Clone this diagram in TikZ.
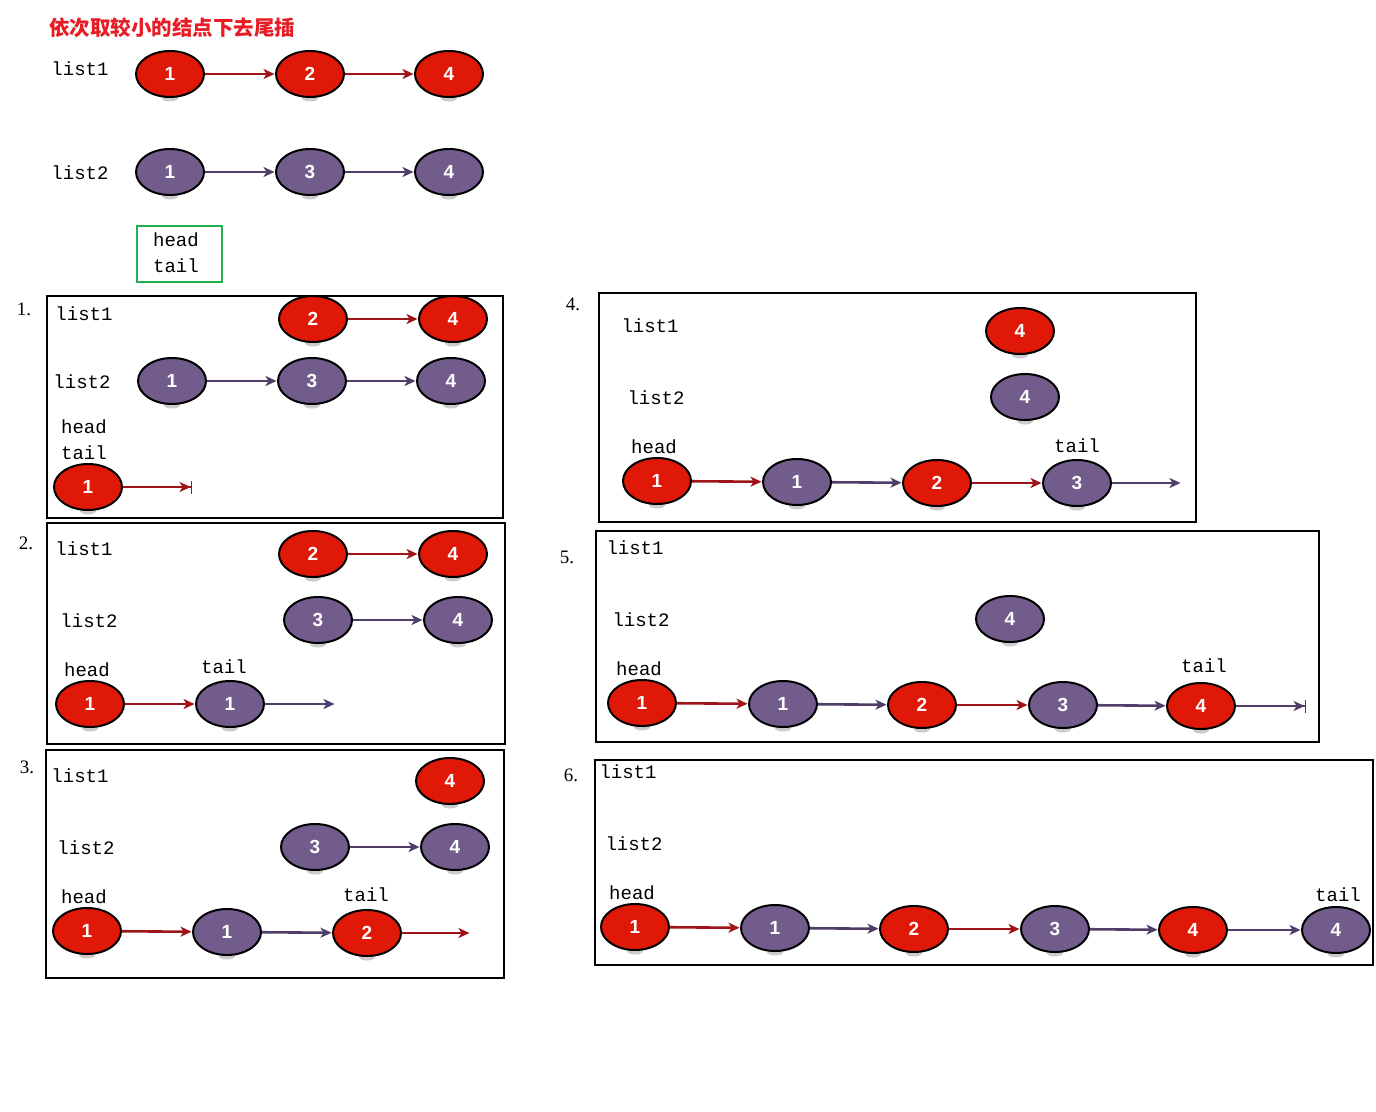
\documentclass[tikz,border=0pt]{standalone}
\usepackage{fontspec}
\setmainfont{Liberation Serif}
\newfontfamily\monof{Liberation Mono}
\newfontfamily\numf{Liberation Sans}
\newfontfamily\cjkf{Noto Sans CJK SC}
\usetikzlibrary{arrows.meta,shapes.geometric}
\definecolor{nodered}{RGB}{224,24,8}
\definecolor{nodepur}{RGB}{114,92,140}
\definecolor{linered}{RGB}{160,20,24}
\definecolor{linepur}{RGB}{78,62,104}
\definecolor{boxgreen}{RGB}{34,176,76}
\definecolor{titlered}{RGB}{232,28,36}
\tikzset{
  lnode/.style={ellipse,draw=black,line width=2pt,minimum width=68pt,minimum height=46pt,inner sep=0pt,
     text=white,font=\numf\bfseries\fontsize{19}{19}\selectfont},
  rednode/.style={lnode,fill=nodered},
  purnode/.style={lnode,fill=nodepur},
  lbl/.style={font=\monof\fontsize{19}{19}\selectfont,inner sep=0pt},
  numlbl/.style={font=\fontsize{19}{19}\selectfont,inner sep=0pt},
  panel/.style={draw=black,line width=1.2pt},
  tipst/.style={-{Stealth[length=11pt,width=10pt,inset=3pt]}},
  redarr/.style={draw=linered,line width=2.6pt,tipst,shorten >=0.5pt},
  purarr/.style={draw=linepur,line width=2.6pt,tipst,shorten >=0.5pt},
  redbar/.style={draw=linered,line width=2.6pt,-{Stealth[length=11pt,width=10pt,inset=3pt,sep=0pt]Bar[width=13pt,line width=1.4pt]}},
  purbar/.style={draw=linepur,line width=2.6pt,-{Stealth[length=11pt,width=10pt,inset=3pt,sep=0pt]Bar[width=13pt,line width=1.4pt]}},
  shadowc/.style={fill=black!20}
}
\newcommand{\RedN}[3]{%
  \path (#2) coordinate (tmp#1);
  \fill[shadowc] ([yshift=-24pt]tmp#1) ellipse [x radius=8pt,y radius=3.5pt];
  \node[rednode] (#1) at (#2) {#3};}
\newcommand{\PurN}[3]{%
  \path (#2) coordinate (tmp#1);
  \fill[shadowc] ([yshift=-24pt]tmp#1) ellipse [x radius=8pt,y radius=3.5pt];
  \node[purnode] (#1) at (#2) {#3};}
\begin{document}
\begin{tikzpicture}[x=1pt,y=-1pt]
\useasboundingbox[fill=white] (0,0) rectangle (1376,1111);

% ---------- title and initial lists ----------
\node[anchor=west,inner sep=0pt,text=titlered,font=\cjkf\bfseries\fontsize{20.5}{20.5}\selectfont] (title) at (49,28) {依次取较小的结点下去尾插};
\node[lbl] (tl1) at (80,69) {list1};
\node[lbl] (tl2) at (80,173) {list2};
\RedN{ta1}{170,74}{1}
\RedN{ta2}{310,74}{2}
\RedN{ta3}{449,74}{4}
\draw[redarr] (ta1) -- (ta2);
\draw[redarr] (ta2) -- (ta3);
\PurN{tb1}{170,172}{1}
\PurN{tb2}{310,172}{3}
\PurN{tb3}{449,172}{4}
\draw[purarr] (tb1) -- (tb2);
\draw[purarr] (tb2) -- (tb3);
\draw[draw=boxgreen,line width=2.5pt] (137,226) rectangle (222,282);
\node[lbl] (thead) at (176,240) {head};
\node[lbl] (ttail) at (176,266) {tail};

% ---------- panel 1 ----------
\node[numlbl] (n1) at (24,309) {1.};
\draw[panel] (47,296) rectangle (503,518);
\node[lbl] (p1l1) at (84,314) {list1};
\node[lbl] (p1l2) at (82,382) {list2};
\node[lbl] (p1h) at (84,427) {head};
\node[lbl] (p1t) at (84,453) {tail};
\RedN{p1a2}{313,319}{2}
\RedN{p1a3}{453,319}{4}
\draw[redarr] (p1a2) -- (p1a3);
\PurN{p1b1}{172,381}{1}
\PurN{p1b2}{312,381}{3}
\PurN{p1b3}{451,381}{4}
\draw[purarr] (p1b1) -- (p1b2);
\draw[purarr] (p1b2) -- (p1b3);
\RedN{p1c1}{88,487}{1}
\coordinate (p1end) at (192,487);
\draw[redbar] (p1c1) -- (p1end);

% ---------- panel 2 ----------
\node[numlbl] (n2) at (26,543) {2.};
\draw[panel] (47,523) rectangle (505,744);
\node[lbl] (p2l1) at (84,549) {list1};
\node[lbl] (p2l2) at (89,621) {list2};
\node[lbl] (p2h) at (87,670) {head};
\node[lbl] (p2t) at (224,667) {tail};
\RedN{p2a2}{313,554}{2}
\RedN{p2a3}{453,554}{4}
\draw[redarr] (p2a2) -- (p2a3);
\PurN{p2b2}{318,620}{3}
\PurN{p2b3}{458,620}{4}
\draw[purarr] (p2b2) -- (p2b3);
\RedN{p2c1}{90,704}{1}
\PurN{p2c2}{230,704}{1}
\coordinate (p2end) at (335,704);
\draw[redarr] (p2c1) -- (p2c2);
\draw[purarr] (p2c2) -- (p2end);

% ---------- panel 3 ----------
\node[numlbl] (n3) at (27,767) {3.};
\draw[panel] (46,750) rectangle (504,978);
\node[lbl] (p3l1) at (80,776) {list1};
\node[lbl] (p3l2) at (86,848) {list2};
\node[lbl] (p3h) at (84,897) {head};
\node[lbl] (p3t) at (366,895) {tail};
\RedN{p3a3}{450,781}{4}
\PurN{p3b2}{315,847}{3}
\PurN{p3b3}{455,847}{4}
\draw[purarr] (p3b2) -- (p3b3);
\RedN{p3c1}{87,931}{1}
\PurN{p3c2}{227,932}{1}
\RedN{p3c3}{367,933}{2}
\coordinate (p3end) at (470,933);
\draw[redarr] (p3c1) -- (p3c2);
\draw[purarr] (p3c2) -- (p3c3);
\draw[redarr] (p3c3) -- (p3end);

% ---------- panel 4 ----------
\node[numlbl] (n4) at (573,304) {4.};
\draw[panel] (599,293) rectangle (1196,522);
\node[lbl] (p4l1) at (650,326) {list1};
\node[lbl] (p4l2) at (656,398) {list2};
\node[lbl] (p4h) at (654,447) {head};
\node[lbl] (p4t) at (1077,446) {tail};
\RedN{p4a3}{1020,331}{4}
\PurN{p4b3}{1025,397}{4}
\RedN{p4c1}{657,481}{1}
\PurN{p4c2}{797,482}{1}
\RedN{p4c3}{937,483}{2}
\PurN{p4c4}{1077,483}{3}
\coordinate (p4end) at (1181,483);
\draw[redarr] (p4c1) -- (p4c2);
\draw[purarr] (p4c2) -- (p4c3);
\draw[redarr] (p4c3) -- (p4c4);
\draw[purarr] (p4c4) -- (p4end);

% ---------- panel 5 ----------
\node[numlbl] (n5) at (567,557) {5.};
\draw[panel] (596,531) rectangle (1319,742);
\node[lbl] (p5l1) at (635,548) {list1};
\node[lbl] (p5l2) at (641,620) {list2};
\node[lbl] (p5h) at (639,669) {head};
\node[lbl] (p5t) at (1204,666) {tail};
\PurN{p5b3}{1010,619}{4}
\RedN{p5c1}{642,703}{1}
\PurN{p5c2}{783,704}{1}
\RedN{p5c3}{922,705}{2}
\PurN{p5c4}{1063,705}{3}
\RedN{p5c5}{1201,706}{4}
\coordinate (p5end) at (1306,706);
\draw[redarr] (p5c1) -- (p5c2);
\draw[purarr] (p5c2) -- (p5c3);
\draw[redarr] (p5c3) -- (p5c4);
\draw[purarr] (p5c4) -- (p5c5);
\draw[purbar] (p5c5) -- (p5end);

% ---------- panel 6 ----------
\node[numlbl] (n6) at (571,775) {6.};
\draw[panel] (595,760) rectangle (1373,965);
\node[lbl] (p6l1) at (628,772) {list1};
\node[lbl] (p6l2) at (634,844) {list2};
\node[lbl] (p6h) at (632,893) {head};
\node[lbl] (p6t) at (1338,895) {tail};
\RedN{p6c1}{635,927}{1}
\PurN{p6c2}{775,928}{1}
\RedN{p6c3}{914,929}{2}
\PurN{p6c4}{1055,929}{3}
\RedN{p6c5}{1193,930}{4}
\PurN{p6c6}{1336,930}{4}
\draw[redarr] (p6c1) -- (p6c2);
\draw[purarr] (p6c2) -- (p6c3);
\draw[redarr] (p6c3) -- (p6c4);
\draw[purarr] (p6c4) -- (p6c5);
\draw[purarr] (p6c5) -- (p6c6);
\end{tikzpicture}
\end{document}
